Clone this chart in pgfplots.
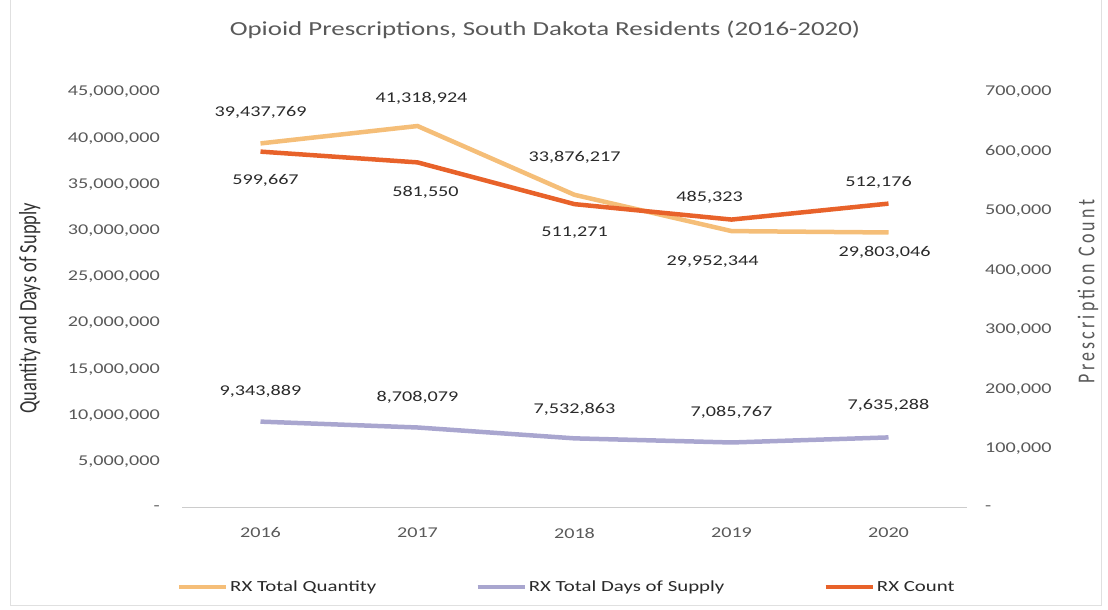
\documentclass[border=0pt]{standalone}
\usepackage{graphicx}
\usepackage{pgfplots}
\pgfplotsset{compat=1.18}
\usepackage{pgfplotstable}
\usepackage{fontspec}
\setmainfont{Carlito}
\definecolor{qty}{HTML}{F5BE78}
\definecolor{days}{HTML}{A9A6CF}
\definecolor{cnt}{HTML}{E8622A}
\definecolor{tick}{HTML}{595959}
\definecolor{lab}{HTML}{2A2A2A}
\newcommand{\sx}[1]{\scalebox{1.35}[1]{#1}}
\newcommand{\sy}[1]{\scalebox{1}[1.35]{#1}}

\pgfplotstableread{
x y lab dx dy
0 39437769 39,437,769 0 31
1 41318924 41,318,924 4 28
2 33876217 33,876,217 0 38
3 29952344 29,952,344 -19 -31
4 29803046 29,803,046 -4 -20
}\qtytab
\pgfplotstableread{
x y lab dx dy
0 9343889 9,343,889 0 30
1 8708079 8,708,079 0 30
2 7532863 7,532,863 0 29
3 7085767 7,085,767 0 30
4 7635288 7,635,288 0 32
}\daystab
\pgfplotstableread{
x y lab dx dy
0 599667 599,667 5 -29
1 581550 581,550 8 -30
2 511271 511,271 0 -29
3 485323 485,323 -22 22
4 512176 512,176 -10 21
}\cnttab

\begin{document}
\begin{tikzpicture}[x=1bp,y=1bp]
\path[use as bounding box] (0,0) rectangle (1108,610);
\draw[black!12, line width=1bp] (10,610) -- (10,4) -- (1101,4) -- (1101,610);
\node[font=\fontsize{20}{24}\selectfont, text=tick] at (545,580) {\sx{Opioid Prescriptions, South Dakota Residents (2016-2020)}};

\pgfplotsset{
  common/.style={
    at={(182bp,102bp)}, anchor=south west, scale only axis,
    width=785bp, height=416bp,
    xmin=-0.5, xmax=4.5, ymin=0,
    scaled y ticks=false,
    tick style={draw=none}, major tick length=0pt,
    tick label style={font=\fontsize{15}{18}\selectfont, text=tick, inner sep=0pt},
    clip=false,
    nodes near coords={\sx{\pgfplotspointmeta}},
    nodes near coords style={font=\fontsize{15}{18}\selectfont, text=lab, anchor=center, inner sep=0pt},
  },
}

\begin{axis}[common,
  ymax=45000000,
  axis x line*=bottom, axis y line*=left,
  y axis line style={draw=none},
  x axis line style={black!20, line width=1bp},
  xtick={0,1,2,3,4},
  xticklabels={\sx{2016},\sx{2017},\sx{2018},\sx{2019},\sx{2020}},
  xticklabel style={anchor=center, yshift=-25bp},
  ytick={0,5000000,10000000,15000000,20000000,25000000,30000000,35000000,40000000,45000000},
  yticklabels={\sx{-},{\sx{5,000,000}},{\sx{10,000,000}},{\sx{15,000,000}},{\sx{20,000,000}},{\sx{25,000,000}},{\sx{30,000,000}},{\sx{35,000,000}},{\sx{40,000,000}},{\sx{45,000,000}}},
  yticklabel style={anchor=east, xshift=-22bp},
  ylabel={\sy{Quantity and Days of Supply}},
  every axis y label/.style={at={(axis description cs:-0.194,0.48)}, rotate=90, anchor=center,
    font=\fontsize{18.5}{21}\selectfont, text=black!80},
  visualization depends on={\thisrow{dx} \as \dx},
  visualization depends on={\thisrow{dy} \as \dy},
  every node near coord/.append style={xshift=\dx pt, yshift=\dy pt},
]
\addplot[qty, line width=4.5bp, point meta=explicit symbolic] table[x=x, y=y, meta=lab] {\qtytab};
\addplot[days, line width=4.5bp, point meta=explicit symbolic] table[x=x, y=y, meta=lab] {\daystab};
\end{axis}

\begin{axis}[common,
  ymax=700000,
  axis x line=none, axis y line*=right,
  y axis line style={draw=none},
  xtick=\empty,
  ytick={0,100000,200000,300000,400000,500000,600000,700000},
  yticklabels={\sx{-},{\sx{100,000}},{\sx{200,000}},{\sx{300,000}},{\sx{400,000}},{\sx{500,000}},{\sx{600,000}},{\sx{700,000}}},
  yticklabel style={anchor=west, xshift=18bp},
  ylabel={\sy{\addfontfeature{LetterSpace=18}Prescription Count}},
  every axis y label/.style={at={(axis description cs:1.154,0.52)}, rotate=90, anchor=center,
    font=\fontsize{18}{21}\selectfont, text=black!65},
  visualization depends on={\thisrow{dx} \as \dx},
  visualization depends on={\thisrow{dy} \as \dy},
  every node near coord/.append style={xshift=\dx pt, yshift=\dy pt},
  legend style={draw=none, fill=none, at={(axis description cs:0.49,-0.19)}, anchor=center,
    font=\fontsize{15.5}{18}\selectfont, text=lab, legend columns=3,
    /tikz/every odd column/.append style={column sep=0bp},
    /tikz/every even column/.append style={column sep=97bp}},
  legend image code/.code={\draw[#1, line width=4.5bp] (0bp,0bp) -- (47bp,0bp);},
]
\addlegendimage{qty}
\addlegendentry{\sx{RX Total Quantity}}
\addlegendimage{days}
\addlegendentry{\sx{RX Total Days of Supply}}
\addplot[cnt, line width=4.5bp, point meta=explicit symbolic] table[x=x, y=y, meta=lab] {\cnttab};
\addlegendentry{\sx{RX Count}}
\end{axis}
\end{tikzpicture}
\end{document}
